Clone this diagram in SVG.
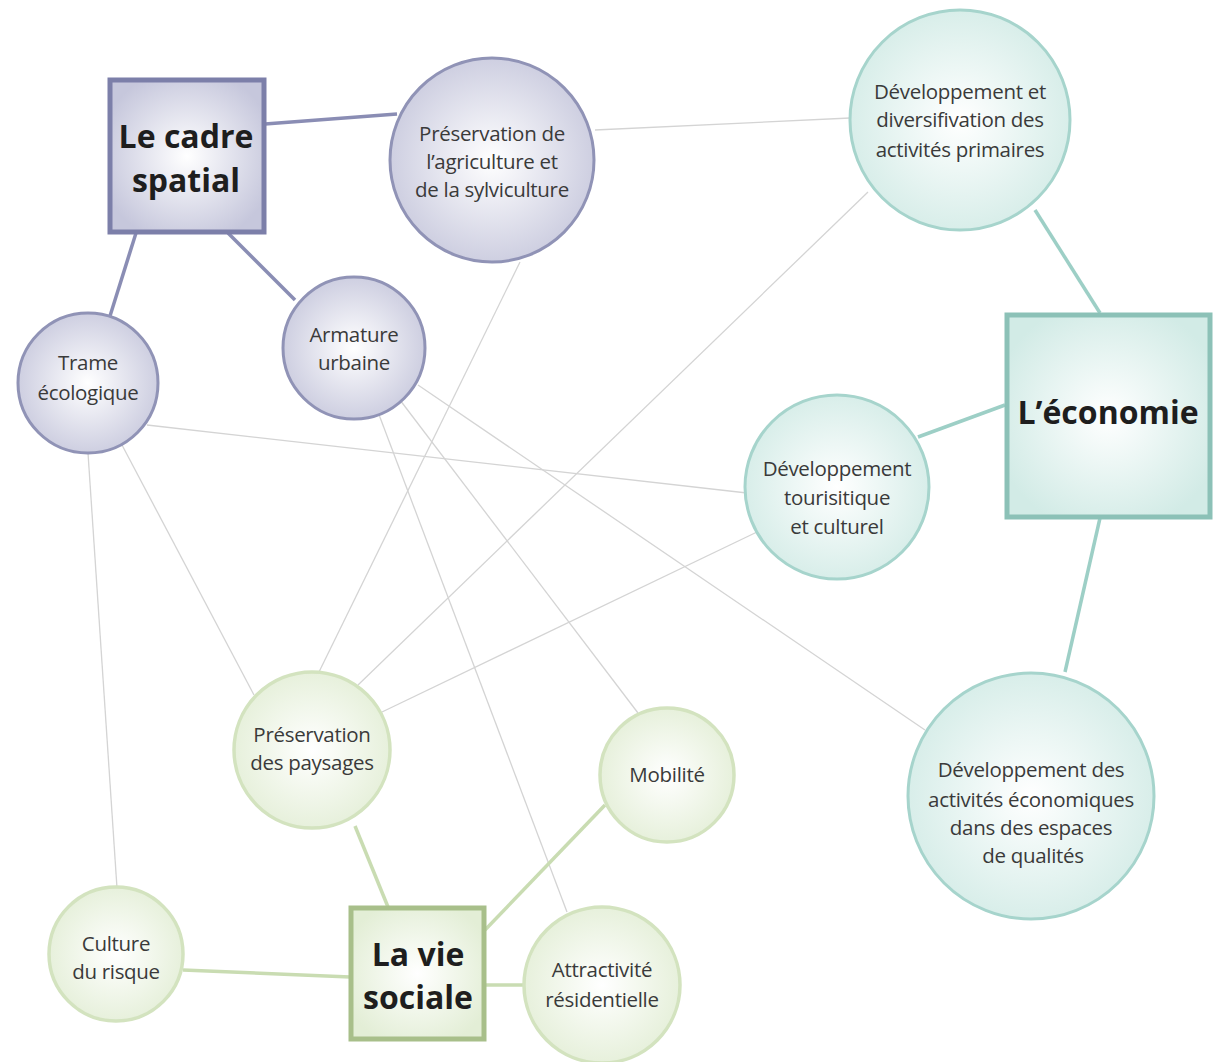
<svg xmlns="http://www.w3.org/2000/svg" width="1214" height="1062" viewBox="0 0 1214 1062">
<defs>
<radialGradient id="gP" cx="50%" cy="50%" r="58%"><stop offset="0" stop-color="#ffffff"/><stop offset="1" stop-color="#c6c7dc"/></radialGradient>
<radialGradient id="gT" cx="50%" cy="50%" r="58%"><stop offset="0" stop-color="#ffffff"/><stop offset="1" stop-color="#d2ebe6"/></radialGradient>
<radialGradient id="gG" cx="50%" cy="50%" r="58%"><stop offset="0" stop-color="#ffffff"/><stop offset="1" stop-color="#e3eed6"/></radialGradient>
</defs>
<style>
text{font-family:"Open Sans","Noto Sans","Liberation Sans",sans-serif;text-anchor:middle;fill:#3a3a3a;font-size:20.5px;letter-spacing:-0.3px}
.big{font-size:32px;font-weight:bold;fill:#1e1e1e;letter-spacing:0}
.thin{stroke:#d4d4d4;stroke-width:1.3;fill:none}
.lp{stroke:#8a8db4;stroke-width:3.5;fill:none}
.lt{stroke:#9dcfc6;stroke-width:3.5;fill:none}
.lg{stroke:#c9dcb2;stroke-width:3.5;fill:none}
.cp{fill:url(#gP);stroke:#9093b6;stroke-width:3}
.sp{fill:url(#gP);stroke:#7c7fa9;stroke-width:5}
.ct{fill:url(#gT);stroke:#a6d4cc;stroke-width:3}
.st{fill:url(#gT);stroke:#8cc1b7;stroke-width:5}
.cg{fill:url(#gG);stroke:#d3e3bf;stroke-width:3.5}
.sg{fill:url(#gG);stroke:#a8bf8a;stroke-width:5}
</style>
<g id="connectors">
<line class="thin" x1="595" y1="130" x2="850" y2="118"/>
<line class="thin" x1="520" y1="262" x2="318" y2="674"/>
<line class="thin" x1="868" y1="192" x2="358" y2="685"/>
<line class="thin" x1="757" y1="532" x2="382" y2="712"/>
<line class="thin" x1="147" y1="425" x2="747" y2="493"/>
<line class="thin" x1="88" y1="453" x2="117" y2="888"/>
<line class="thin" x1="122" y1="445" x2="254" y2="695"/>
<line class="thin" x1="378" y1="412" x2="567" y2="912"/>
<line class="thin" x1="400" y1="400" x2="638" y2="713"/>
<line class="thin" x1="418" y1="385" x2="925" y2="730"/>
<line class="lp" x1="265" y1="124" x2="397" y2="114"/>
<line class="lp" x1="136" y1="233" x2="110" y2="316"/>
<line class="lp" x1="228" y1="233" x2="295" y2="300"/>
<line class="lt" x1="1035" y1="210" x2="1100" y2="313"/>
<line class="lt" x1="918" y1="437" x2="1005" y2="405"/>
<line class="lt" x1="1100" y1="518" x2="1065" y2="672"/>
<line class="lg" x1="388" y1="907" x2="355" y2="826"/>
<line class="lg" x1="183" y1="970" x2="350" y2="977"/>
<line class="lg" x1="485" y1="930" x2="605" y2="805"/>
<line class="lg" x1="485" y1="985" x2="524" y2="985"/>
</g>
<g id="cadre"><rect class="sp" x="110" y="80" width="154" height="152"/><text class="big" x="186" y="148">Le cadre</text><text class="big" x="186" y="192">spatial</text></g>
<g id="agriculture"><circle class="cp" cx="492" cy="160" r="102"/><text x="492" y="141">Préservation de</text><text x="492" y="169">l’agriculture et</text><text x="492" y="197">de la sylviculture</text></g>
<g id="primaires"><circle class="ct" cx="960" cy="120" r="110"/><text x="960" y="99">Développement et</text><text x="960" y="127">diversifivation des</text><text x="960" y="157">activités primaires</text></g>
<g id="economie"><rect class="st" x="1007" y="315" width="203" height="202"/><text class="big" x="1108" y="424">L’économie</text></g>
<g id="trame"><circle class="cp" cx="88" cy="383" r="70"/><text x="88" y="370">Trame</text><text x="88" y="400">écologique</text></g>
<g id="armature"><circle class="cp" cx="354" cy="348" r="71"/><text x="354" y="342">Armature</text><text x="354" y="370">urbaine</text></g>
<g id="touristique"><circle class="ct" cx="837" cy="487" r="92"/><text x="837" y="476">Développement</text><text x="837" y="505">tourisitique</text><text x="837" y="534">et culturel</text></g>
<g id="economiques"><circle class="ct" cx="1031" cy="796" r="123"/><text x="1031" y="777">Développement des</text><text x="1031" y="807">activités économiques</text><text x="1031" y="835">dans des espaces</text><text x="1033" y="863">de qualités</text></g>
<g id="paysages"><circle class="cg" cx="312" cy="750" r="78"/><text x="312" y="742">Préservation</text><text x="312" y="770">des paysages</text></g>
<g id="mobilite"><circle class="cg" cx="667" cy="775" r="67"/><text x="667" y="782">Mobilité</text></g>
<g id="risque"><circle class="cg" cx="116" cy="954" r="67"/><text x="116" y="951">Culture</text><text x="116" y="979">du risque</text></g>
<g id="viesociale"><rect class="sg" x="351" y="908" width="133" height="131"/><text class="big" x="418" y="966">La vie</text><text class="big" x="418" y="1009">sociale</text></g>
<g id="attractivite"><circle class="cg" cx="602" cy="985" r="78"/><text x="602" y="977">Attractivité</text><text x="602" y="1007">résidentielle</text></g>
</svg>
